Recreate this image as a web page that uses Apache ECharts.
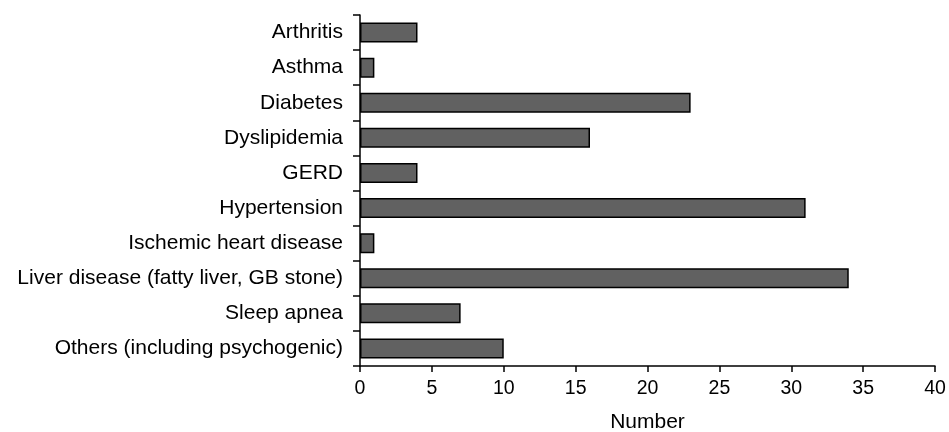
<!DOCTYPE html>
<html>
<head>
<meta charset="utf-8">
<script src="https://cdn.jsdelivr.net/npm/echarts@6/dist/echarts.min.js"></script>
<style>
  html, body { margin: 0; padding: 0; background: #fff; }
  #chart { width: 949px; height: 432px; }
</style>
</head>
<body>
<div id="chart"></div>
<script>
// categories top to bottom
const diseases = [
  "Arthritis",
  "Asthma",
  "Diabetes",
  "Dyslipidemia",
  "GERD",
  "Hypertension",
  "Ischemic heart disease",
  "Liver disease (fatty liver, GB stone)",
  "Sleep apnea",
  "Others (including psychogenic)"
];
const counts = [4, 1, 23, 16, 4, 31, 1, 34, 7, 10];
const xTicks = { min: 0, max: 40, step: 5 };

const chart = echarts.init(document.getElementById("chart"));
const font = "Liberation Sans, Arial, sans-serif";

chart.setOption({
  animation: false,
  // fixed plot box, don't let the labels squeeze it
  grid: { left: 360, right: 14, top: 15, bottom: 66, containLabel: false, outerBoundsMode: "none" },
  xAxis: {
    type: "value",
    min: xTicks.min,
    max: xTicks.max,
    interval: xTicks.step,
    name: "Number",
    nameLocation: "middle",
    nameGap: 46,
    nameTextStyle: { color: "#000", fontSize: 21, fontFamily: font },
    splitLine: { show: false },
    axisLine: { show: true, lineStyle: { color: "#000", width: 1.5 } },
    axisTick: { show: true, length: 6, lineStyle: { color: "#000", width: 1.5 } },
    axisLabel: { color: "#000", fontSize: 19.5, fontFamily: font, margin: 13 }
  },
  yAxis: {
    type: "category",
    data: diseases,
    inverse: true,
    axisLine: { show: true, lineStyle: { color: "#000", width: 1.5 } },
    axisTick: { show: true, length: 7, lineStyle: { color: "#000", width: 1.5 } },
    axisLabel: { color: "#000", fontSize: 21, fontFamily: font, margin: 17 }
  },
  series: [{
    type: "bar",
    data: counts,
    barWidth: 20,
    itemStyle: { color: "#616161", borderColor: "#000", borderWidth: 1.5 }
  }]
});
</script>
</body>
</html>
